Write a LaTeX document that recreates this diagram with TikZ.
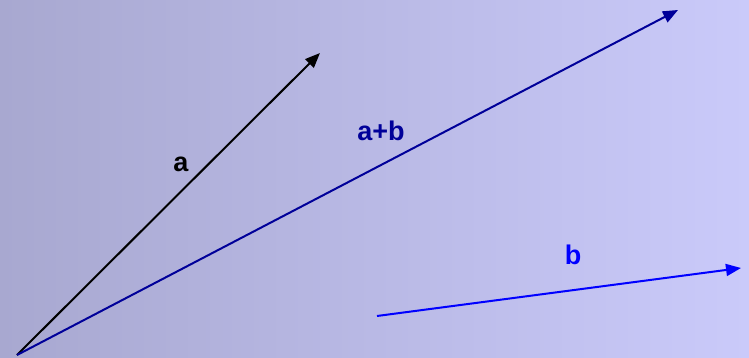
\documentclass[tikz,border=0pt]{standalone}
\usepackage{fontspec}
\setmainfont{Liberation Sans}
\usetikzlibrary{arrows.meta}
\definecolor{bgleft}{RGB}{168,168,208}
\definecolor{bgright}{RGB}{202,202,250}
\definecolor{sumblue}{RGB}{0,0,153}
\definecolor{bblue}{RGB}{0,0,255}
\tikzset{
  vec/.style={line width=2pt,-{Triangle[length=15pt,width=12pt]}},
  lbl/.style={font=\fontsize{27}{31}\selectfont\bfseries, inner sep=0pt}
}
\begin{document}
\begin{tikzpicture}[x=1pt,y=-1pt]
\shade[left color=bgleft,right color=bgright] (0,0) rectangle (749,358);
\useasboundingbox (0,0) rectangle (749,358);
\coordinate (O) at (17,355);
\coordinate (A) at (320,53);
\coordinate (S) at (678,10);
\coordinate (B0) at (377,316);
\coordinate (B1) at (741,268);
\draw[vec,black] (O) -- (A);
\draw[vec,sumblue] (O) -- (S);
\draw[vec,bblue] (B0) -- (B1);
\node[lbl,black] (la) at (181,164) {a};
\node[lbl,sumblue] (lab) at (381,131) {a+b};
\node[lbl,bblue] (lb) at (573,255) {b};
\end{tikzpicture}
\end{document}
